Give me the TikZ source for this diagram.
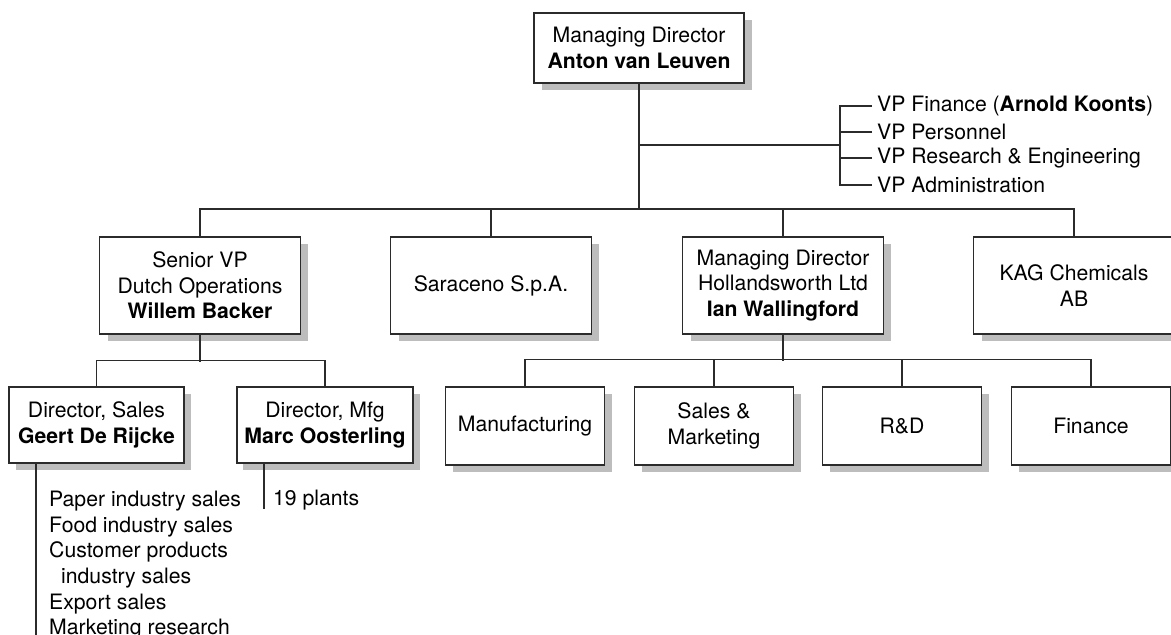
\documentclass[tikz,border=0pt]{standalone}
\usepackage{fontspec}
\setmainfont{TeX Gyre Heros}
\definecolor{inkc}{HTML}{2B2B2B}
\definecolor{shadowc}{RGB}{189,189,189}
\tikzset{
  box/.style={draw=inkc, line width=1.3pt, fill=white, align=center,
    inner sep=2pt, text=black},
  shade/.style={fill=shadowc, draw=none, inner sep=0pt, outer sep=0pt},
  plain/.style={inner sep=0pt, text=black},
  vpitem/.style={inner ysep=0pt, inner xsep=5pt, text=black, anchor=west},
  link/.style={draw=inkc, line width=1.3pt}
}
\begin{document}
\begin{tikzpicture}[x=1pt, y=-1pt, font=\fontsize{21.2}{25.6}\selectfont]
\useasboundingbox (0,0) rectangle (1171,635);

% shadows under the boxes, offset 7 to the right and down
\fill[shadowc] (541.7,20.3) rectangle (752.3,90.3);
\foreach \cx in {200,491,783,1074}
  \fill[shadowc] (\cx-92.2,244.3) rectangle (\cx+108.2,341.3);
\fill[shadowc] (15.5,394.3) rectangle (191.2,470.3);
\fill[shadowc] (243.3,394.3) rectangle (419.7,470.3);
\foreach \cx in {525,714,902,1091}
  \fill[shadowc] (\cx-72.2,394.3) rectangle (\cx+87.2,472.3);

% head of the company
\node[box, minimum width=210pt, minimum height=70pt] (md) at (639,48)
  {Managing Director\\\textbf{Anton van Leuven}};

% staff vice presidents
\node[vpitem] (vpf) at (872,106) {VP Finance (\textbf{Arnold Koonts})};
\node[vpitem] (vpp) at (872,132) {VP Personnel};
\node[vpitem] (vpr) at (872,158) {VP Research \& Engineering};
\node[vpitem] (vpa) at (872,185) {VP Administration};
\coordinate (brk) at (840,145);
\coordinate (bus) at (0,209);

% divisions
\node[box, minimum width=201pt, minimum height=97pt] (svp) at (200,285.5) {Senior VP\\Dutch Operations\\\textbf{Willem Backer}};
\node[box, minimum width=201pt, minimum height=97pt] (sar) at (491,285.5) {Saraceno S.p.A.};
\node[box, minimum width=201pt, minimum height=97pt] (hol) at (783,285.5) {Managing Director\\Hollandsworth Ltd\\\textbf{Ian Wallingford}};
\node[box, minimum width=201pt, minimum height=97pt] (kag) at (1074,285.5) {KAG Chemicals\\AB};

% Dutch operations
\node[box, minimum width=175pt, minimum height=76pt] (dsal) at (96.5,425) {Director, Sales\\\textbf{Geert De Rijcke}};
\node[box, minimum width=176pt, minimum height=76pt] (dmfg) at (325,425) {Director, Mfg\\\textbf{Marc Oosterling}};

% Hollandsworth departments
\node[box, minimum width=159pt, minimum height=78pt] (hman) at (525,426) {Manufacturing};
\node[box, minimum width=159pt, minimum height=78pt] (hsal) at (714,426) {Sales \&\\Marketing};
\node[box, minimum width=159pt, minimum height=78pt] (hrd)  at (902,426) {R\&D};
\node[box, minimum width=159pt, minimum height=78pt] (hfin) at (1091,426) {Finance};

% sales groups and plants
\node[plain, anchor=north west, align=left] (sgrp) at (49,491)
  {Paper industry sales\\Food industry sales\\Customer products\\\hspace*{12pt}industry sales\\Export sales\\Marketing research};
\node[plain, anchor=west] (plants) at (273,500) {19 plants};
\coordinate (sline) at (36,635);
\coordinate (pline) at (264,509);

% connectors
\draw[link] (md.south) -- (md.south |- bus);
\draw[link] (md.south |- brk) -- (brk);
\draw[link] (vpf.west) -- (vpf.west -| brk) |- (vpa.west);
\draw[link] (vpp.west) -- (vpp.west -| brk);
\draw[link] (vpr.west) -- (vpr.west -| brk);
\draw[link] (svp.north) -- (svp.north |- bus) -| (kag.north);
\draw[link] (sar.north) -- (sar.north |- bus);
\draw[link] (hol.north) -- (hol.north |- bus);

\draw[link] (svp.south) -- ++(0,27);
\draw[link] (dsal.north) -- ++(0,-26) -| (dmfg.north);
\draw[link] (sline |- dsal.south) -- (sline);
\draw[link] (pline |- dmfg.south) -- (pline);

\draw[link] (hol.south) -- ++(0,26);
\draw[link] (hman.north) -- ++(0,-27) -| (hfin.north);
\draw[link] (hsal.north) -- ++(0,-27);
\draw[link] (hrd.north) -- ++(0,-27);
\end{tikzpicture}
\end{document}
